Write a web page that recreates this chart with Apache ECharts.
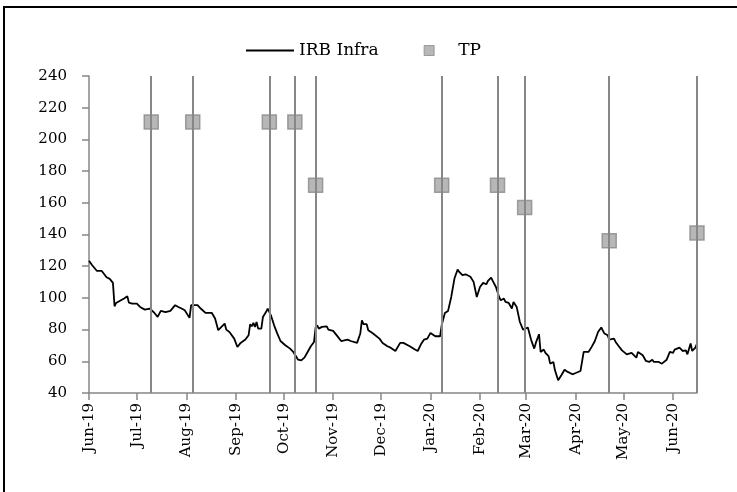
<!DOCTYPE html>
<html>
<head>
<meta charset="utf-8">
<script src="https://cdn.jsdelivr.net/npm/echarts@6/dist/echarts.min.js"></script>
<style>
  html, body { margin: 0; padding: 0; background: #fff; }
  #chart { width: 737px; height: 492px; }
</style>
</head>
<body>
<div id="chart"></div>
<script>
// IRB Infra 股价 + 目标价(TP)
var priceDates = [
    '2019-06-01','2019-06-03','2019-06-06','2019-06-09','2019-06-10','2019-06-12','2019-06-14','2019-06-16',
    '2019-06-17','2019-06-18','2019-06-21','2019-06-23','2019-06-25','2019-06-26','2019-06-28','2019-07-01',
    '2019-07-03','2019-07-06','2019-07-09','2019-07-12','2019-07-14','2019-07-16','2019-07-19','2019-07-22',
    '2019-07-25','2019-07-27','2019-07-29','2019-07-31','2019-08-03','2019-08-04','2019-08-08','2019-08-10',
    '2019-08-13','2019-08-17','2019-08-19','2019-08-21','2019-08-23','2019-08-25','2019-08-26','2019-08-28',
    '2019-08-31','2019-09-02','2019-09-04','2019-09-07','2019-09-09','2019-09-10','2019-09-11','2019-09-12',
    '2019-09-13','2019-09-14','2019-09-15','2019-09-17','2019-09-18','2019-09-20','2019-09-21','2019-09-23',
    '2019-09-25','2019-09-27','2019-09-29','2019-10-02','2019-10-05','2019-10-07','2019-10-09','2019-10-10',
    '2019-10-12','2019-10-14','2019-10-16','2019-10-18','2019-10-20','2019-10-21','2019-10-22','2019-10-23',
    '2019-10-25','2019-10-28','2019-10-29','2019-11-01','2019-11-04','2019-11-06','2019-11-07','2019-11-10',
    '2019-11-12','2019-11-16','2019-11-18','2019-11-19','2019-11-20','2019-11-22','2019-11-23','2019-11-26',
    '2019-11-27','2019-11-30','2019-12-02','2019-12-05','2019-12-07','2019-12-08','2019-12-10','2019-12-13',
    '2019-12-15','2019-12-19','2019-12-22','2019-12-24','2019-12-26','2019-12-28','2019-12-30','2020-01-01',
    '2020-01-04','2020-01-07','2020-01-08','2020-01-10','2020-01-12','2020-01-14','2020-01-16','2020-01-18',
    '2020-01-19','2020-01-21','2020-01-23','2020-01-26','2020-01-28','2020-01-30','2020-02-01','2020-02-03',
    '2020-02-05','2020-02-06','2020-02-08','2020-02-09','2020-02-11','2020-02-13','2020-02-14','2020-02-16',
    '2020-02-17','2020-02-19','2020-02-21','2020-02-22','2020-02-24','2020-02-26','2020-02-28','2020-02-29',
    '2020-03-02','2020-03-04','2020-03-06','2020-03-07','2020-03-09','2020-03-10','2020-03-12','2020-03-13',
    '2020-03-15','2020-03-16','2020-03-18','2020-03-19','2020-03-21','2020-03-23','2020-03-25','2020-03-27',
    '2020-03-28','2020-03-30','2020-04-01','2020-04-04','2020-04-06','2020-04-09','2020-04-11','2020-04-13',
    '2020-04-14','2020-04-15','2020-04-17','2020-04-19','2020-04-21','2020-04-22','2020-04-25','2020-04-26',
    '2020-04-28','2020-04-30','2020-05-03','2020-05-06','2020-05-09','2020-05-10','2020-05-13','2020-05-15',
    '2020-05-17','2020-05-19','2020-05-20','2020-05-23','2020-05-25','2020-05-28','2020-05-30','2020-06-01',
    '2020-06-02','2020-06-05','2020-06-07','2020-06-09','2020-06-10','2020-06-12','2020-06-13','2020-06-15',
    '2020-06-16'
];
var priceValues = [
    123.5,120.6,117,117,118,113,112,109.5,
    94.7,96.8,98.5,99.6,101,97,96.4,96.4,
    94.3,92.6,93.3,90.5,88,91.8,91,91.8,
    95.4,94.3,93.3,92.2,87.4,95.4,95.4,93.3,
    90.5,90.5,87,79.6,81.7,83.8,80,78.5,
    74.3,69,71.6,73.7,76.4,83.4,82.1,84.2,
    81.7,84.8,80.6,80.6,88,91.2,93.3,89,
    82.7,77.5,72.8,70.1,68,65.9,62.7,61,
    60.6,62.3,65.9,69.5,72.2,81.3,82.7,80.6,
    81.7,82.1,80,79.2,75.4,72.8,72.2,73.7,
    72.8,71.6,77.5,85.9,83.4,83.4,79.6,77.5,
    76.4,74.3,71.6,69.5,68.6,67.4,66.5,71.6,
    71.6,69.5,67.6,66.5,70.7,73.7,74.3,77.9,
    75.8,75.8,82.7,90.5,91.8,100.6,112.2,117.9,
    116.4,114.3,114.9,113.3,110.1,100.6,106.9,109.5,
    108.6,110.7,112.8,110.7,106.9,100.6,98.5,99.6,
    97.5,96.8,93.3,97.5,94.3,84.8,80,79.2,
    81.3,73.7,68,71.6,77.1,65.9,67.4,65.3,
    63.2,58.5,59.6,54.3,48,51.2,54.7,53.3,
    53.9,51.8,52.6,53.9,65.9,65.9,69.1,72.8,
    73.7,78.5,81.3,77.5,76.4,73.7,74.3,72.2,
    69.5,66.9,64.4,65.3,62.3,65.9,63.8,60.2,
    59.6,61,59.6,59.6,58.5,61,65.9,65.3,
    67.4,68.6,66.5,66.9,64.4,71.2,66.5,68.6,
    71.2
];
var tpDates = ['2019-07-10','2019-08-05','2019-09-22','2019-10-08','2019-10-21',
               '2020-01-08','2020-02-12','2020-02-29','2020-04-22','2020-06-16'];
var tpValues = [211, 211, 211, 211, 171, 171, 171, 157, 136, 141];
var monthNames = ['Jan','Feb','Mar','Apr','May','Jun','Jul','Aug','Sep','Oct','Nov','Dec'];
var xMin = '2019-06-01', xMax = '2020-06-16';
var yTicks = [40, 240, 20]; // min, max, 步长

var FONT = 'DejaVu Serif';
var GRAY = '#878787';

var myChart = echarts.init(document.getElementById('chart'));

// 日期字符串 -> 时间戳(本地时间)
function ts(s) {
    var p = s.split('-');
    return new Date(+p[0], +p[1] - 1, +p[2]).getTime();
}

// 月初刻度
var monthTicks = [];
for (var i = 0; i <= 12; i++) {
    monthTicks.push(new Date(2019, 5 + i, 1).getTime());
}

var priceData = priceDates.map(function (d, i) { return [ts(d), priceValues[i]]; });
var tpData = tpDates.map(function (d, i) { return [ts(d), tpValues[i]]; });

myChart.setOption({
    animation: false,
    backgroundColor: '#fff',
    textStyle: { fontFamily: FONT },
    legend: {
        left: 241,
        top: 37,
        itemWidth: 48,
        itemHeight: 10,
        itemGap: 45,
        symbolKeepAspect: true,
        textStyle: { fontFamily: FONT, fontSize: 17, color: '#000' },
        data: [
            { name: 'IRB Infra', icon: 'path://M0,0 L48,0 L48,2 L0,2 Z', itemStyle: { color: '#000', borderWidth: 0 } },
            { name: 'TP', icon: 'path://M0,0 L10,0 L10,10 L0,10 Z', itemStyle: { color: '#a5a5a5', borderColor: '#8a8a8a', borderWidth: 1 } }
        ]
    },
    graphic: [{
        type: 'rect',
        shape: { x: 4, y: 7, width: 900, height: 700 },
        style: { fill: 'none', stroke: '#000', lineWidth: 2 },
        silent: true
    }],
    grid: { left: 89, right: 40, top: 76, bottom: 99 },
    xAxis: {
        type: 'value',
        min: ts(xMin),
        max: ts(xMax),
        splitLine: { show: false },
        axisLine: { lineStyle: { color: GRAY, width: 1.5 } },
        axisTick: { customValues: monthTicks, length: 7, lineStyle: { color: GRAY, width: 1.5 } },
        axisLabel: {
            customValues: monthTicks,
            rotate: 90,
            margin: 10,
            fontFamily: FONT,
            fontSize: 15,
            color: '#000',
            formatter: function (val) {
                var d = new Date(val);
                return monthNames[d.getMonth()] + '-' + String(d.getFullYear()).slice(2);
            }
        }
    },
    yAxis: {
        type: 'value',
        min: yTicks[0],
        max: yTicks[1],
        interval: yTicks[2],
        splitLine: { show: false },
        axisLine: { show: true, lineStyle: { color: GRAY, width: 1.5 } },
        axisTick: { show: true, length: 7, lineStyle: { color: GRAY, width: 1.5 } },
        axisLabel: { margin: 22, fontFamily: FONT, fontSize: 15, color: '#000' }
    },
    series: [
        {
            name: 'IRB Infra',
            type: 'line',
            data: priceData,
            symbol: 'none',
            z: 3,
            itemStyle: { color: '#000' },
            lineStyle: { color: '#000', width: 1.8 }
        },
        {
            name: 'TP',
            type: 'scatter',
            data: tpData,
            symbol: 'rect',
            symbolSize: 14,
            z: 2,
            itemStyle: { color: '#a5a5a5', borderColor: '#8a8a8a', borderWidth: 1.5 },
            markLine: {
                silent: true,
                symbol: ['none', 'none'],
                label: { show: false },
                lineStyle: { color: GRAY, width: 2, type: 'solid' },
                data: tpData.map(function (p) { return { xAxis: p[0] }; })
            }
        }
    ]
});
</script>
</body>
</html>
